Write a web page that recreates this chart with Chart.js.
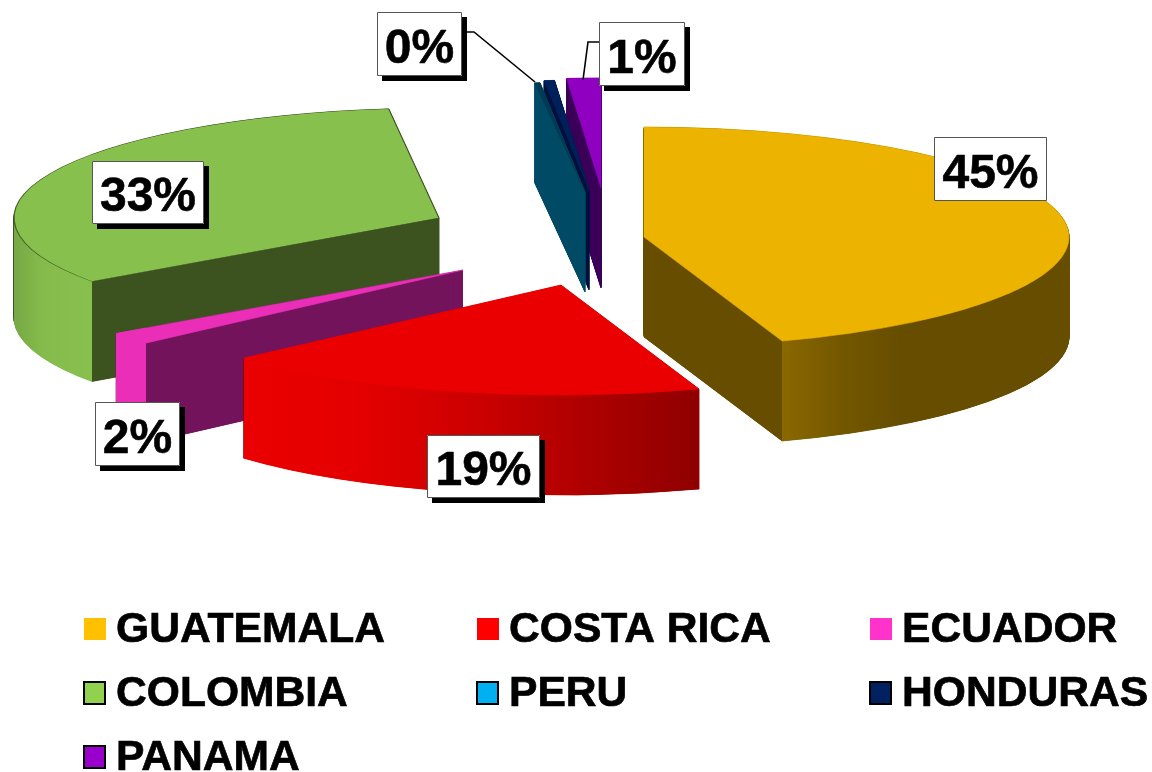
<!DOCTYPE html>
<html><head><meta charset="utf-8">
<style>html,body{margin:0;padding:0;background:#fff}canvas{display:block}</style>
<script src="https://cdn.jsdelivr.net/npm/chart.js@4/dist/chart.umd.min.js"></script>
</head><body>
<div style="width:1152px;height:772px"><canvas id="c" width="1152" height="772"></canvas></div>
<script>
// ---- data ----
const categories = ['GUATEMALA','COSTA RICA','ECUADOR','COLOMBIA','PERU','HONDURAS','PANAMA'];
const shares     = [45, 18.8, 1.8, 33.1, 0.2, 0.4, 1.3];
const shareLabels= ['45%','19%','2%','33%',null,'0%','1%'];
// ---- styles ----
const topColors    = ['#ecb300','#ea0000','#ea2eb8','#88c04e','#003a55','#00205c','#9000c0'];
const topEdges     = [null,null,null,'rgba(50,70,30,0.75)',null,null,null];
const legendColors = ['#ffc000','#ff0000','#ff33cc','#92d050','#00b0f0','#002060','#9900cc'];
const legendBorder = [false,false,false,true,true,true,true];
const flatWall     = ['#664d00','#8f0000','#73135c','#3c5320','#004a66','#00103a','#3a0058'];
const outerWall = [
  [[0,'#8a6800'],[0.2,'#745700'],[0.42,'#664d00'],[1,'#664d00']],
  [[0,'#ea0000'],[0.25,'#e40000'],[0.55,'#c80000'],[0.8,'#a80000'],[1,'#8c0000']],
  [[0,'#ea2eb8'],[1,'#ea2eb8']],
  [[0,'#76a845'],[0.35,'#85bb4c'],[1,'#88c04e']],
  [[0,'#004a66'],[1,'#004a66']],
  [[0,'#00103a'],[1,'#00103a']],
  [[0,'#3a0058'],[1,'#3a0058']]
];
const explodeX = [39,-44,-142,-166,-20,-16,-4];
const explodeY = [-1,47,32,-20,-46,-48,-50];
const paintOrder = [6,5,4,3,2,0,1];
const pieCentre = {x:605,y:238}, radiusX = 425, radiusY = 110, wallDepth = 100, wallStep = 0.25;
const labelBoxes = [
  {x:934,y:137,w:113,h:64,shadow:false},
  {x:427,y:435,w:113,h:63,shadow:true},
  {x:95,y:402,w:85,h:64,shadow:true},
  {x:92,y:161,w:112,h:63,shadow:true},
  null,
  {x:377,y:12,w:85,h:64,shadow:true},
  {x:599,y:22,w:86,h:64,shadow:true}
];
const leaderLines = [
  [[462,32],[474,32],[535,82]],
  [[599,42],[588,42],[583,80]]
];
const legendCols = [83,476,869], legendRows = [642,706,770], legendTextGap = 33;
const FONT = '"Liberation Sans", Arial, sans-serif';

function rimRange(a){
  // horizontal extent (-1..1) of the rim part that faces the viewer (lower half of the ellipse)
  const s=Math.max(a.startAngle,0), e=Math.min(a.endAngle,Math.PI);
  if(e<=s) return null;
  return [Math.cos(e),Math.cos(s)];
}
function wallGradient(ctx,a,i){
  const g=ctx.createLinearGradient(a.x-a.outerRadius,0,a.x+a.outerRadius,0);
  const r=rimRange(a);
  if(!r){g.addColorStop(0,flatWall[i]);g.addColorStop(1,flatWall[i]);return g;}
  const [lo,hi]=r, f=u=>Math.min(1,Math.max(0,(u+1)/2));
  g.addColorStop(0,flatWall[i]);g.addColorStop(f(lo),flatWall[i]);
  outerWall[i].forEach(([t,c])=>g.addColorStop(f(lo+(hi-lo)*t),c));
  g.addColorStop(f(hi),flatWall[i]);g.addColorStop(1,flatWall[i]);
  return g;
}
function styled(a,opts){
  const p=Object.create(a);
  p.options=Object.assign({borderWidth:0,borderColor:'transparent',borderAlign:'center',borderJoinStyle:'round',
    borderRadius:0,offset:0,spacing:0,circular:true,angle:0,borderDash:[],borderDashOffset:0},opts);
  return p;
}
const pie3d={
  id:'pie3d',
  beforeDatasetsDraw(chart){
    const ctx=chart.ctx, arcs=chart.getDatasetMeta(0).data;
    paintOrder.forEach(i=>{
      const a=arcs[i];
      const sx=radiusX/a.outerRadius, sy=radiusY/a.outerRadius;
      const place=k=>{ctx.translate(pieCentre.x+explodeX[i],pieCentre.y+explodeY[i]+k);ctx.scale(sx,sy);ctx.translate(-a.x,-a.y);};
      const grad=wallGradient(ctx,a,i);
      const wall=styled(a,{backgroundColor:grad,borderColor:grad,borderWidth:0.8});
      for(let k=wallDepth;k>=wallStep;k-=wallStep){ctx.save();place(k);wall.draw(ctx);ctx.restore();}
      ctx.save();place(0);
      styled(a,topEdges[i]?{backgroundColor:topColors[i],borderColor:topEdges[i],borderWidth:1.2}:{backgroundColor:topColors[i],borderColor:topColors[i],borderWidth:0.8}).draw(ctx);
      ctx.restore();
    });
    return false;
  },
  afterDraw(chart){
    const ctx=chart.ctx;
    ctx.save();
    ctx.strokeStyle='#000';ctx.lineWidth=1.6;
    leaderLines.forEach(l=>{ctx.beginPath();l.forEach(([x,y],n)=>n?ctx.lineTo(x,y):ctx.moveTo(x,y));ctx.stroke();});
    ctx.textAlign='center';ctx.textBaseline='alphabetic';ctx.font='bold 48px '+FONT;ctx.lineJoin='round';
    shareLabels.forEach((t,i)=>{
      const b=labelBoxes[i]; if(!t||!b) return;
      if(b.shadow){ctx.fillStyle='#000';ctx.fillRect(b.x+5,b.y+5,b.w,b.h);}
      ctx.fillStyle='#fff';ctx.fillRect(b.x,b.y,b.w,b.h);
      ctx.strokeStyle='#555';ctx.lineWidth=1;ctx.strokeRect(b.x+.5,b.y+.5,b.w-1,b.h-1);
      ctx.fillStyle='#000';ctx.strokeStyle='#000';ctx.lineWidth=0.6;
      const by=b.y+b.h/2+18.5;
      ctx.fillText(t,b.x+b.w/2,by);ctx.strokeText(t,b.x+b.w/2,by);
    });
    ctx.textAlign='left';ctx.font='bold 42.6px '+FONT;
    categories.forEach((t,i)=>{
      const cx=legendCols[i%3], by=legendRows[Math.floor(i/3)];
      if(legendBorder[i]){ctx.fillStyle='#000';ctx.fillRect(cx,by-25,23,24);ctx.fillStyle=legendColors[i];ctx.fillRect(cx+2,by-23,19,20);}
      else{ctx.fillStyle=legendColors[i];ctx.fillRect(cx+1,by-24,22,22);}
      ctx.fillStyle='#000';ctx.strokeStyle='#000';ctx.lineWidth=0.7;
      ctx.fillText(t,cx+legendTextGap,by);ctx.strokeText(t,cx+legendTextGap,by);
    });
    ctx.restore();
  }
};
new Chart(document.getElementById('c'),{
  type:'pie',
  data:{labels:categories,datasets:[{data:shares,backgroundColor:topColors,borderWidth:0}]},
  options:{responsive:false,animation:false,events:[],
    plugins:{legend:{display:false},tooltip:{enabled:false}}},
  plugins:[pie3d]
});
</script>
</body></html>
